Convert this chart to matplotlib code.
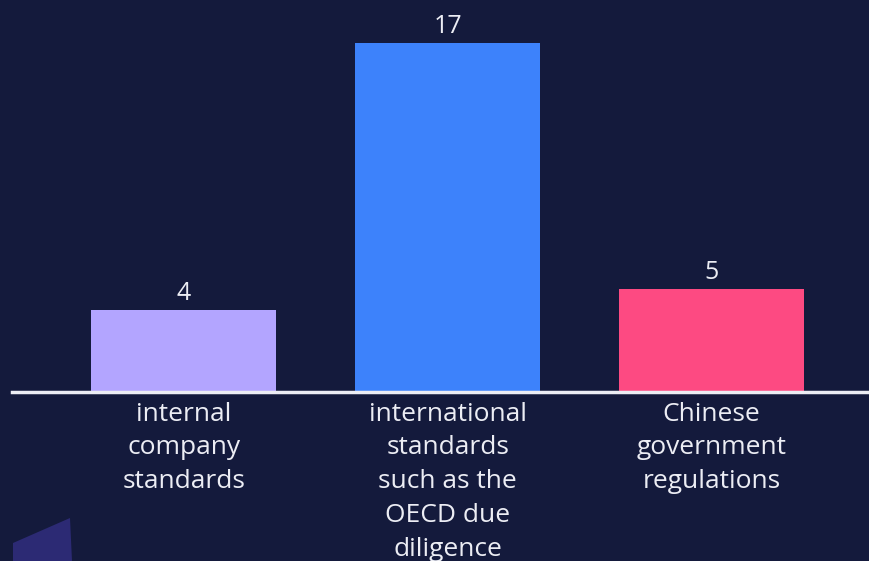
import matplotlib.pyplot as plt
from matplotlib.patches import Polygon

categories = ["internal\ncompany\nstandards",
              "international\nstandards\nsuch as the\nOECD due\ndiligence",
              "Chinese\ngovernment\nregulations"]
values = [4, 17, 5]
colors = ["#b3a5ff", "#3d82fb", "#fd4a82"]

BG = "#141a3c"
TEXT = "#ecedf4"


def main():
    plt.rcParams['font.family'] = ['Open Sans', 'DejaVu Sans']
    fig = plt.figure(figsize=(8.7, 5.61), dpi=100, facecolor=BG)
    ax = fig.add_axes([12 / 870, 169 / 561, 858 / 870, 392 / 561])
    ax.set_facecolor(BG)

    x = range(len(values))
    bars = ax.bar(x, values, width=0.70, color=colors)
    for rect, v in zip(bars, values):
        ax.text(rect.get_x() + rect.get_width() / 2, v + 0.2, str(v),
                ha='center', va='bottom', color=TEXT, fontsize=18)

    ax.set_xlim(-0.65, 2.60)
    ax.set_ylim(0, 19.1)
    ax.set_yticks([])
    ax.set_xticks(list(x))
    ax.set_xticklabels(categories, color=TEXT, fontsize=19, linespacing=1.46)
    ax.tick_params(axis='x', length=0, pad=7)
    for side in ['top', 'left', 'right']:
        ax.spines[side].set_visible(False)
    ax.spines['bottom'].set_color(TEXT)
    ax.spines['bottom'].set_linewidth(2.5)

    # decorative slanted shape in the lower-left corner
    shape = Polygon([(13, 0), (13, 18), (70, 43), (72, 0)], closed=True,
                    transform=None, facecolor="#2c2a74", edgecolor='none')
    fig.patches.append(shape)

    fig.savefig("out.png", dpi=100, facecolor=BG)


if __name__ == "__main__":
    main()
